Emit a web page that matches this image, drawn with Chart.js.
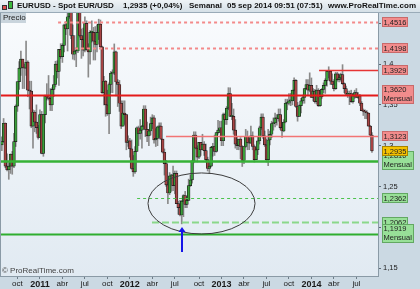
<!DOCTYPE html>
<html>
<head>
<meta charset="utf-8">
<script src="https://cdn.jsdelivr.net/npm/chart.js@4.4.0/dist/chart.umd.min.js"></script>
<style>
html, body { margin: 0; padding: 0; background: #cbd9e3; }
#wrap { position: relative; width: 420px; height: 289px; overflow: hidden; font-family: "Liberation Sans", Arial, sans-serif; }
#c { position: absolute; left: 0; top: 0; }
#head { position: absolute; left: 0; top: 0; width: 420px; height: 12px; background: linear-gradient(#eef3f6, #d5e0e7); border-bottom: 1px solid #9aabb8; font-weight: bold; font-size: 8px; line-height: 12px; color: #111; }
#head span { position: absolute; top: 0; white-space: nowrap; }
.ic { position: absolute; box-sizing: border-box; border: 1px solid #333; }
#precio { position: absolute; left: 1px; top: 13px; width: 25px; height: 10px; background: #c9d4dc; font-size: 8px; line-height: 10px; color: #222; padding-left: 2px; box-sizing: border-box; }
#copy { position: absolute; left: 2px; top: 266px; font-size: 8px; color: #444; }
</style>
</head>
<body>
<div id="wrap">
  <canvas id="c" width="420" height="289"></canvas>
  <div id="head">
    <div class="ic" style="left:2px;top:5px;width:5px;height:5px;background:#e05050;"></div>
    <div class="ic" style="left:8px;top:1px;width:5px;height:8px;background:#3cb83c;"></div>
    <span style="left:17px">EURUSD - Spot EUR/USD</span>
    <span id="lastTxt" style="left:123px"></span>
    <span style="left:189px">Semanal</span>
    <span style="left:227px">05 sep 2014 09:51 (07:51)</span>
    <span style="left:328px">www.ProRealTime.com</span>
  </div>
  <div id="precio">Precio</div>
  <div id="copy">© ProRealTime.com</div>
</div>
<script>
// Weekly EUR/USD candles, first week starting Mon 26 Jul 2010
const firstWeek = '2010-07-26';
const emptyWeeksAfter = 3;

const opens = [
  1.3010,1.3050,1.3275,1.2750,1.2705,1.2750,1.2895,1.2750,1.3050,1.3485,
  1.3785,1.3950,1.4060,1.3960,1.3950,1.4025,1.3680,1.3670,1.3240,1.3410,
  1.3290,1.3220,1.3100,1.3380,1.2905,1.3380,1.3610,1.3600,1.3580,1.3500,
  1.3690,1.3750,1.4000,1.3910,1.4180,1.4090,1.4230,1.4480,1.4430,1.4580,
  1.4820,1.4350,1.4120,1.4160,1.4160,1.4640,1.4350,1.4300,1.4170,1.4500,
  1.4180,1.4150,1.4390,1.4390,1.4280,1.4240,1.4390,1.4490,1.4210,1.3650,
  1.3790,1.3500,1.3390,1.3750,1.3890,1.3890,1.4150,1.3780,1.3750,1.3520,
  1.3240,1.3400,1.3380,1.3040,1.3060,1.2960,1.2720,1.2680,1.2930,1.3220,
  1.3150,1.3190,1.3240,1.3450,1.3200,1.3120,1.3180,1.3270,1.3340,1.3070,
  1.3090,1.3230,1.3240,1.3080,1.2920,1.2780,1.2520,1.2420,1.2630,1.2640,
  1.2510,1.2660,1.2290,1.2240,1.2150,1.2320,1.2390,1.2280,1.2330,1.2510,
  1.2580,1.2810,1.3130,1.2970,1.2860,1.3040,1.2950,1.3020,1.2940,1.2830,
  1.2720,1.2750,1.2980,1.2990,1.2930,1.3160,1.3190,1.3220,1.3060,1.3380,
  1.3320,1.3460,1.3640,1.3360,1.3360,1.3190,1.3020,1.3000,1.3080,1.2990,
  1.2820,1.2990,1.3110,1.3040,1.3030,1.3120,1.2990,1.2830,1.2950,1.3060,
  1.3220,1.3350,1.3120,1.3010,1.2830,1.3070,1.3140,1.3270,1.3280,1.3340,
  1.3330,1.3380,1.3220,1.3180,1.3290,1.3520,1.3520,1.3550,1.3550,1.3680,
  1.3800,1.3480,1.3360,1.3490,1.3550,1.3590,1.3700,1.3750,1.3680,1.3740,
  1.3590,1.3670,1.3540,1.3680,1.3490,1.3600,1.3690,1.3740,1.3800,1.3910,
  1.3910,1.3790,1.3750,1.3700,1.3880,1.3810,1.3830,1.3870,1.3760,1.3700,
  1.3630,1.3630,1.3640,1.3540,1.3610,1.3650,1.3590,1.3610,1.3520,1.3430,
  1.3420,1.3410,1.3400,1.3240,1.3130
];
const highs = [
  1.3110,1.3333,1.3280,1.2900,1.2790,1.2900,1.2930,1.3150,1.3500,1.3780,
  1.4030,1.4160,1.4060,1.4000,1.4282,1.4040,1.3790,1.3790,1.3440,1.3430,
  1.3500,1.3250,1.3440,1.3420,1.3380,1.3620,1.3760,1.3860,1.3700,1.3710,
  1.3860,1.4035,1.4040,1.4180,1.4250,1.4250,1.4490,1.4520,1.4650,1.4880,
  1.4940,1.4480,1.4350,1.4200,1.4640,1.4700,1.4430,1.4440,1.4580,1.4530,
  1.4250,1.4410,1.4530,1.4450,1.4460,1.4480,1.4550,1.4540,1.4220,1.3850,
  1.3800,1.3680,1.3770,1.3910,1.3930,1.4247,1.4160,1.3810,1.3800,1.3550,
  1.3550,1.3550,1.3380,1.3120,1.3090,1.3070,1.2880,1.2990,1.3230,1.3240,
  1.3320,1.3250,1.3490,1.3490,1.3290,1.3200,1.3350,1.3380,1.3370,1.3210,
  1.3240,1.3280,1.3280,1.3080,1.2960,1.2820,1.2560,1.2670,1.2650,1.2750,
  1.2690,1.2690,1.2320,1.2330,1.2330,1.2400,1.2440,1.2370,1.2590,1.2640,
  1.2820,1.3170,1.3170,1.3000,1.3040,1.3040,1.3140,1.3050,1.3020,1.2860,
  1.2800,1.2990,1.3030,1.3130,1.3160,1.3310,1.3300,1.3300,1.3400,1.3400,
  1.3480,1.3711,1.3710,1.3520,1.3450,1.3320,1.3110,1.3080,1.3100,1.3000,
  1.2980,1.3200,1.3180,1.3090,1.3240,1.3170,1.3010,1.2970,1.3110,1.3240,
  1.3390,1.3390,1.3180,1.3080,1.3200,1.3180,1.3300,1.3340,1.3400,1.3380,
  1.3450,1.3450,1.3230,1.3320,1.3570,1.3570,1.3640,1.3640,1.3680,1.3830,
  1.3810,1.3530,1.3500,1.3580,1.3620,1.3700,1.3810,1.3810,1.3893,1.3830,
  1.3700,1.3690,1.3740,1.3700,1.3620,1.3700,1.3770,1.3820,1.3915,1.3967,
  1.3920,1.3880,1.3810,1.3900,1.3900,1.3880,1.3890,1.3993,1.3770,1.3730,
  1.3670,1.3670,1.3680,1.3640,1.3680,1.3700,1.3650,1.3630,1.3540,1.3450,
  1.3440,1.3430,1.3400,1.3250,1.3160
];
const lows = [
  1.2940,1.3040,1.2730,1.2690,1.2588,1.2660,1.2650,1.2730,1.2990,1.3420,
  1.3690,1.3860,1.3700,1.3700,1.3860,1.3600,1.3450,1.3220,1.2969,1.3170,
  1.3150,1.3080,1.3100,1.2900,1.2870,1.3280,1.3560,1.3560,1.3430,1.3430,
  1.3600,1.3720,1.3830,1.3740,1.4070,1.4020,1.4150,1.4360,1.4160,1.4560,
  1.4310,1.4060,1.4050,1.3968,1.4140,1.4330,1.4070,1.4100,1.4150,1.4170,
  1.3840,1.4000,1.4270,1.4050,1.4050,1.4150,1.4300,1.4190,1.3640,1.3500,
  1.3360,1.3370,1.3146,1.3650,1.3650,1.3870,1.3610,1.3480,1.3420,1.3210,
  1.3240,1.3260,1.2950,1.2990,1.2858,1.2710,1.2624,1.2660,1.2930,1.3000,
  1.3080,1.2970,1.3200,1.3110,1.3050,1.3000,1.3130,1.3210,1.3030,1.2990,
  1.3000,1.3100,1.3080,1.2910,1.2640,1.2500,1.2290,1.2400,1.2440,1.2450,
  1.2410,1.2290,1.2160,1.2140,1.2042,1.2130,1.2240,1.2240,1.2330,1.2500,
  1.2540,1.2790,1.2960,1.2800,1.2840,1.2880,1.2950,1.2880,1.2800,1.2690,
  1.2660,1.2740,1.2870,1.2880,1.2920,1.3140,1.3160,1.3000,1.3000,1.3260,
  1.3260,1.3440,1.3360,1.3320,1.3140,1.2970,1.2950,1.2950,1.2840,1.2745,
  1.2780,1.2980,1.2950,1.2950,1.3030,1.2950,1.2800,1.2830,1.2890,1.3020,
  1.3200,1.3090,1.2990,1.2800,1.2755,1.3010,1.3100,1.3190,1.3230,1.3250,
  1.3300,1.3200,1.3100,1.3170,1.3280,1.3440,1.3500,1.3490,1.3500,1.3670,
  1.3470,1.3300,1.3360,1.3400,1.3520,1.3520,1.3690,1.3620,1.3660,1.3590,
  1.3550,1.3520,1.3510,1.3480,1.3480,1.3580,1.3650,1.3640,1.3730,1.3830,
  1.3750,1.3750,1.3670,1.3690,1.3790,1.3780,1.3790,1.3750,1.3650,1.3620,
  1.3590,1.3503,1.3530,1.3520,1.3580,1.3590,1.3580,1.3490,1.3430,1.3370,
  1.3330,1.3330,1.3240,1.3110,1.2918
];
const closes = [
  1.3050,1.3275,1.2750,1.2705,1.2750,1.2895,1.2750,1.3050,1.3485,1.3785,
  1.3950,1.4060,1.3960,1.3950,1.4025,1.3680,1.3670,1.3240,1.3410,1.3290,
  1.3220,1.3100,1.3380,1.2905,1.3380,1.3610,1.3600,1.3580,1.3500,1.3690,
  1.3750,1.4000,1.3910,1.4180,1.4090,1.4230,1.4480,1.4430,1.4580,1.4820,
  1.4350,1.4120,1.4160,1.4160,1.4640,1.4350,1.4300,1.4170,1.4500,1.4180,
  1.4150,1.4390,1.4390,1.4280,1.4240,1.4390,1.4490,1.4210,1.3650,1.3790,
  1.3500,1.3390,1.3750,1.3890,1.3890,1.4150,1.3780,1.3750,1.3520,1.3240,
  1.3400,1.3380,1.3040,1.3060,1.2960,1.2720,1.2680,1.2930,1.3220,1.3150,
  1.3190,1.3240,1.3450,1.3200,1.3120,1.3180,1.3270,1.3340,1.3070,1.3090,
  1.3230,1.3240,1.3080,1.2920,1.2780,1.2520,1.2420,1.2630,1.2640,1.2510,
  1.2660,1.2290,1.2240,1.2150,1.2320,1.2390,1.2280,1.2330,1.2510,1.2580,
  1.2810,1.3130,1.2970,1.2860,1.3040,1.2950,1.3020,1.2940,1.2830,1.2720,
  1.2750,1.2980,1.2990,1.2930,1.3160,1.3190,1.3220,1.3060,1.3380,1.3320,
  1.3460,1.3640,1.3360,1.3360,1.3190,1.3020,1.3000,1.3080,1.2990,1.2820,
  1.2990,1.3110,1.3040,1.3030,1.3120,1.2990,1.2830,1.2950,1.3060,1.3220,
  1.3350,1.3120,1.3010,1.2830,1.3070,1.3140,1.3270,1.3280,1.3340,1.3330,
  1.3380,1.3220,1.3180,1.3290,1.3520,1.3520,1.3550,1.3550,1.3680,1.3800,
  1.3480,1.3360,1.3490,1.3550,1.3590,1.3700,1.3750,1.3680,1.3740,1.3590,
  1.3670,1.3540,1.3680,1.3490,1.3600,1.3690,1.3740,1.3800,1.3910,1.3910,
  1.3790,1.3750,1.3700,1.3880,1.3810,1.3830,1.3870,1.3760,1.3700,1.3630,
  1.3630,1.3640,1.3540,1.3610,1.3650,1.3590,1.3610,1.3520,1.3430,1.3420,
  1.3410,1.3400,1.3240,1.3130,1.2935
];

// Horizontal levels drawn on the chart (price, first week index, tag)
const levelPrices = [1.4516, 1.4198, 1.3929, 1.3620, 1.3123, 1.2810, 1.2362, 1.2062, 1.1919];
const levelFrom   = [32.5, 42.3, 183.4, -0.5, 94.9, -0.5, 78.2, 86.8, -0.5];
const levelTags   = ['', '', '', 'Mensual', '', 'Mensual', '', '', 'Mensual'];

// Circled zone around the mid-2012 low, and arrow under the low
const zoneWeeks  = [84.5, 146.4];
const zonePrices = [1.2666, 1.1918];
const arrowWeek = 104;
const arrowPrices = [1.1697, 1.2004];

const quarterNames = { 3: 'abr', 6: 'jul', 9: 'oct' };

const fmt = v => v.toFixed(4).replace('.', ',');
document.getElementById('lastTxt').textContent = fmt(closes[closes.length - 1]) + ' (+0,04%)';

const weeks = [];
const t0 = new Date(firstWeek + 'T00:00:00Z').getTime();
for (let i = 0; i < opens.length + emptyWeeksAfter; i++) {
    weeks.push(new Date(t0 + i * 7 * 86400000));
}

// label shown under the week that contains the 1st of a quarter month
function quarterLabel(i) {
    const d = weeks[i];
    if (!d) return '';
    const end = new Date(d.getTime() + 6 * 86400000);
    let m = null, y = null;
    if (d.getUTCDate() === 1) { m = d.getUTCMonth(); y = d.getUTCFullYear(); }
    else if (end.getUTCMonth() !== d.getUTCMonth()) { m = end.getUTCMonth(); y = end.getUTCFullYear(); }
    if (m === null || m % 3 !== 0) return '';
    return m === 0 ? String(y) : quarterNames[m];
}

const FONT = '"Liberation Sans", Arial, sans-serif';
const upColor = '#3a9e3a';
const downColor = '#a84444';

const lineColors = ['#f38a8a', '#f38a8a', '#e63434', '#e41a1a', '#f27474', '#36b236', '#4cc24c', '#8ad88a', '#2fae2f'];
const lineWidths = [2, 2, 1.5, 2, 1.5, 2.5, 1, 2, 2];
const lineDash = [[3, 3], [3, 3], [], [], [], [], [3, 3], [7, 3], []];

const overlay = {
    id: 'overlay',
    beforeDraw(chart) {
        const { ctx, chartArea: a } = chart;
        ctx.save();
        ctx.fillStyle = '#cbd9e3';
        ctx.fillRect(0, 0, chart.width, chart.height);
        const g = ctx.createLinearGradient(0, a.top, 0, a.bottom);
        g.addColorStop(0, '#f9fbfd');
        g.addColorStop(1, '#e1eaf2');
        ctx.fillStyle = g;
        ctx.fillRect(a.left, a.top, a.right - a.left, a.bottom - a.top);
        ctx.restore();
    },
    afterDatasetsDraw(chart) {
        const { ctx, chartArea: a, scales: { x, y } } = chart;
        ctx.save();
        ctx.beginPath();
        ctx.rect(a.left, a.top, a.right - a.left, a.bottom - a.top);
        ctx.clip();

        levelPrices.forEach((p, i) => {
            const py = Math.round(y.getPixelForValue(p)) + 0.5;
            const px = Math.max(a.left, x.getPixelForValue(levelFrom[i]));
            ctx.beginPath();
            ctx.setLineDash(lineDash[i]);
            ctx.strokeStyle = lineColors[i];
            ctx.lineWidth = lineWidths[i];
            ctx.moveTo(px, py);
            ctx.lineTo(a.right, py);
            ctx.stroke();
        });
        ctx.setLineDash([]);

        // ellipse
        const x1 = x.getPixelForValue(zoneWeeks[0]), x2 = x.getPixelForValue(zoneWeeks[1]);
        const y1 = y.getPixelForValue(zonePrices[0]), y2 = y.getPixelForValue(zonePrices[1]);
        ctx.beginPath();
        ctx.strokeStyle = '#3c3c3c';
        ctx.lineWidth = 1;
        ctx.ellipse((x1 + x2) / 2, (y1 + y2) / 2, (x2 - x1) / 2, (y2 - y1) / 2, 0, 0, Math.PI * 2);
        ctx.stroke();

        // arrow
        const ax = Math.round(x.getPixelForValue(arrowWeek));
        const ay0 = y.getPixelForValue(arrowPrices[0]);
        const ay1 = y.getPixelForValue(arrowPrices[1]);
        ctx.strokeStyle = '#1515e8';
        ctx.fillStyle = '#1515e8';
        ctx.lineWidth = 2;
        ctx.beginPath();
        ctx.moveTo(ax, ay0);
        ctx.lineTo(ax, ay1 + 4);
        ctx.stroke();
        ctx.beginPath();
        ctx.moveTo(ax, ay1);
        ctx.lineTo(ax - 3.5, ay1 + 5);
        ctx.lineTo(ax + 3.5, ay1 + 5);
        ctx.closePath();
        ctx.fill();
        ctx.restore();
    },
    afterDraw(chart) {
        const { ctx, chartArea: a, scales: { y } } = chart;
        ctx.save();
        ctx.strokeStyle = '#8a9aa6';
        ctx.lineWidth = 1;
        ctx.strokeRect(a.left - 0.5, a.top - 0.5, a.right - a.left + 1, a.bottom - a.top + 1);

        ctx.font = '7.5px ' + FONT;
        ctx.textBaseline = 'middle';
        const box = (p, tag, fill, stroke, color) => {
            const py = Math.round(y.getPixelForValue(p));
            const txt = fmt(p);
            const w = Math.ceil(Math.max(ctx.measureText(txt).width, tag ? ctx.measureText(tag).width : 0)) + 3;
            const h = tag ? 19 : 10;
            const bx = a.right + 4, by = py - Math.round(h / 2);
            ctx.fillStyle = fill;
            ctx.fillRect(bx, by, w, h);
            ctx.strokeStyle = stroke;
            ctx.strokeRect(bx + 0.5, by + 0.5, w - 1, h - 1);
            ctx.fillStyle = color;
            ctx.textAlign = 'left';
            if (tag) {
                ctx.fillText(txt, bx + 1.5, by + 5);
                ctx.fillText(tag, bx + 1.5, by + 14);
            } else {
                ctx.fillText(txt, bx + 1.5, by + 5.5);
            }
        };
        levelPrices.forEach((p, i) => {
            const red = p > closes[closes.length - 1];
            box(p, levelTags[i], red ? '#f28c8c' : '#98e098', red ? '#c86a6a' : '#62a862', '#222');
        });
        box(closes[closes.length - 1], '', '#f5c200', '#a88400', '#222');
        ctx.restore();
    }
};

new Chart(document.getElementById('c'), {
    type: 'bar',
    data: {
        labels: weeks.map(d => d.toISOString().slice(0, 10)),
        datasets: [
            {
                label: 'cuerpo',
                data: opens.map((o, i) => [Math.min(o, closes[i]), Math.max(o, closes[i])]),
                backgroundColor: opens.map((o, i) => closes[i] >= o ? upColor : downColor),
                borderColor: '#1a1a1a',
                borderWidth: 0.7,
                borderSkipped: false,
                barThickness: 2.8,
                minBarLength: 1,
                grouped: false
            },
            {
                label: 'mecha',
                data: lows.map((l, i) => [l, highs[i]]),
                backgroundColor: '#8a8a8a',
                barThickness: 1,
                grouped: false
            }
        ]
    },
    options: {
        responsive: false,
        animation: false,
        events: [],
        layout: { padding: { top: 13, left: 1, right: 0, bottom: 0 } },
        plugins: { legend: { display: false }, tooltip: { enabled: false } },
        scales: {
            x: {
                offset: true,
                border: { display: false },
                grid: {
                    offset: false,
                    drawOnChartArea: false,
                    tickLength: 3,
                    color: ctx => quarterLabel(ctx.index) ? '#6d7c88' : 'rgba(0,0,0,0)'
                },
                ticks: {
                    autoSkip: false,
                    maxRotation: 0,
                    minRotation: 0,
                    padding: 0,
                    color: '#1a1a1a',
                    callback: (v, i) => quarterLabel(i),
                    font: ctx => {
                        const yr = /^\d+$/.test(quarterLabel(ctx.index));
                        return { family: FONT, size: yr ? 9 : 8, weight: yr ? 'bold' : 'normal' };
                    }
                },
                afterFit: s => { s.height = 13; }
            },
            y: {
                position: 'right',
                min: 1.1403,
                max: 1.4626,
                border: { display: false },
                grid: { drawOnChartArea: false, tickLength: 3, color: '#5d6b76' },
                ticks: {
                    stepSize: 0.05,
                    includeBounds: false,
                    padding: 2,
                    color: '#1a1a1a',
                    font: { family: FONT, size: 7.5 },
                    callback: v => {
                        let s = v.toFixed(2);
                        if (s.endsWith('0')) s = s.slice(0, -1);
                        return s.replace('.', ',');
                    }
                },
                afterFit: s => { s.width = 42; }
            }
        }
    },
    plugins: [overlay]
});
</script>
</body>
</html>
